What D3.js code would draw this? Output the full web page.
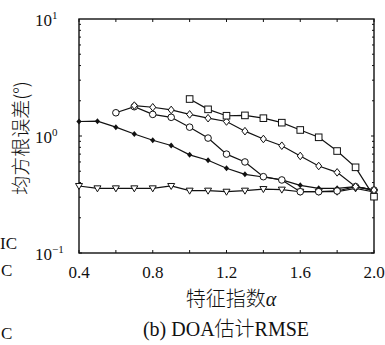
<!DOCTYPE html>
<html lang="zh">
<head>
<meta charset="UTF-8">
<title>DOA估计RMSE</title>
<script src="https://cdn.jsdelivr.net/npm/d3@7"></script>
<style>
  body { margin: 0; background: #fff; }
  text { fill: #111; }
</style>
</head>
<body>
<script>
  // 数据
  const alphaFull = [0.4, 0.5, 0.6, 0.7, 0.8, 0.9, 1.0, 1.1, 1.2, 1.3, 1.4, 1.5, 1.6, 1.7, 1.8, 1.9, 2.0];
  const triVals = [0.374, 0.357, 0.357, 0.357, 0.357, 0.374, 0.341, 0.341, 0.334, 0.341, 0.352, 0.348, 0.334, 0.334, 0.334, 0.357, 0.332];
  const dotVals = [1.33, 1.34, 1.19, 1.04, 0.92, 0.83, 0.69, 0.62, 0.53, 0.47, 0.446, 0.421, 0.379, 0.357, 0.357, 0.369, 0.345];
  const alphaCircle = [0.6, 0.7, 0.8, 0.9, 1.0, 1.1, 1.2, 1.3, 1.4, 1.5, 1.6, 1.7, 1.8, 1.9, 2.0];
  const circleVals = [1.58, 1.78, 1.53, 1.445, 1.19, 0.96, 0.70, 0.60, 0.449, 0.421, 0.334, 0.334, 0.339, 0.369, 0.345];
  const alphaDiamond = [0.7, 0.8, 0.9, 1.0, 1.1, 1.2, 1.3, 1.4, 1.5, 1.6, 1.7, 1.8, 1.9, 2.0];
  const diamondVals = [1.82, 1.76, 1.67, 1.53, 1.42, 1.33, 1.10, 0.943, 0.826, 0.675, 0.554, 0.489, 0.369, 0.345];
  const alphaSquare = [1.0, 1.1, 1.2, 1.3, 1.4, 1.5, 1.6, 1.7, 1.8, 1.9, 2.0];
  const squareVals = [2.07, 1.69, 1.49, 1.50, 1.42, 1.30, 1.126, 0.975, 0.744, 0.54, 0.303];
  const xTickLabels = [0.4, 0.8, 1.2, 1.6, 2.0];

  const width = 385, height = 345;
  const marge = { top: 19, bottom: 92, left: 79, right: 11 };

  const svg = d3.select("body").append("svg")
    .attr("width", width)
    .attr("height", height);

  const x = d3.scaleLinear().domain([0.4, 2.0]).range([marge.left, width - marge.right]);
  const y = d3.scaleLog().domain([0.1, 10]).range([height - marge.bottom, marge.top]);

  const serif = "'Liberation Serif', 'DejaVu Serif', serif";
  const cjk = "'Noto Sans CJK SC', sans-serif";

  // 刻度（向内）
  const x0 = x(0.4), x1 = x(2.0), y0 = y(0.1), y1 = y(10);
  const ticks = svg.append("g").attr("stroke", "#111").attr("stroke-width", 1);
  d3.range(0.4, 2.01, 0.2).forEach(v => {
    ticks.append("line").attr("x1", x(v)).attr("x2", x(v)).attr("y1", y0).attr("y2", y0 - 3);
    ticks.append("line").attr("x1", x(v)).attr("x2", x(v)).attr("y1", y1).attr("y2", y1 + 3);
  });
  [0.1, 1].forEach(d => {
    d3.range(1, 10).forEach(k => {
      const v = d * k;
      const len = k === 1 ? 3 : 2;
      ticks.append("line").attr("x1", x0).attr("x2", x0 + len).attr("y1", y(v)).attr("y2", y(v));
      ticks.append("line").attr("x1", x1).attr("x2", x1 - len).attr("y1", y(v)).attr("y2", y(v));
    });
  });

  // 坐标框
  svg.append("rect")
    .attr("x", x0).attr("y", y1)
    .attr("width", x1 - x0).attr("height", y0 - y1)
    .attr("fill", "none").attr("stroke", "#111").attr("stroke-width", 1.4);

  // x 轴标签
  svg.append("g").selectAll("text").data(xTickLabels).enter().append("text")
    .attr("x", d => x(d)).attr("y", y0 + 25)
    .attr("text-anchor", "middle")
    .attr("font-family", serif).attr("font-size", 17)
    .text(d => d.toFixed(1));

  // y 轴标签 10^n
  const yl = svg.append("g").attr("font-family", serif);
  [[10, "1"], [1, "0"], [0.1, "−1"]].forEach(([v, e]) => {
    const t = yl.append("text").attr("x", 35).attr("y", y(v) + 7).attr("font-size", 17);
    t.append("tspan").text("10");
    t.append("tspan").attr("dy", -7).attr("font-size", 11).text(e);
  });

  // 轴标题
  svg.append("text")
    .attr("transform", "translate(28," + ((y0 + y1) / 2 + 2) + ") rotate(-90)")
    .attr("text-anchor", "middle")
    .attr("font-family", cjk).attr("font-size", 19).attr("font-weight", 300)
    .text("均方根误差(°)");

  const xt = svg.append("text")
    .attr("x", 231).attr("y", 306)
    .attr("text-anchor", "middle")
    .attr("font-family", cjk).attr("font-size", 20).attr("font-weight", 300);
  xt.append("tspan").text("特征指数");
  xt.append("tspan").attr("font-family", serif).attr("font-style", "italic").text("α");

  const cap = svg.append("text")
    .attr("x", 226).attr("y", 336)
    .attr("text-anchor", "middle")
    .attr("font-size", 20);
  cap.append("tspan").attr("font-family", serif).text("(b) DOA");
  cap.append("tspan").attr("font-family", cjk).attr("font-weight", 300).text("估计");
  cap.append("tspan").attr("font-family", serif).text("RMSE");

  // 左侧邻图残留文字
  const frag = svg.append("g").attr("font-family", serif).attr("font-size", 17);
  frag.append("text").attr("x", 0).attr("y", 249).text("IC");
  frag.append("text").attr("x", 1).attr("y", 276).text("C");
  frag.append("text").attr("x", 1).attr("y", 339).text("C");

  // 曲线
  const line = d3.line().x(d => x(d[0])).y(d => y(d[1]));
  const series = [
    { xs: alphaFull, ys: triVals, mark: "tri" },
    { xs: alphaFull, ys: dotVals, mark: "dot" },
    { xs: alphaCircle, ys: circleVals, mark: "circle" },
    { xs: alphaDiamond, ys: diamondVals, mark: "diamond" },
    { xs: alphaSquare, ys: squareVals, mark: "square" }
  ];

  const plot = svg.append("g");
  series.forEach(s => {
    const pts = s.xs.map((a, i) => [a, s.ys[i]]);
    plot.append("path")
      .attr("d", line(pts))
      .attr("fill", "none").attr("stroke", "#111").attr("stroke-width", 1.2);
  });

  series.forEach(s => {
    const pts = s.xs.map((a, i) => [a, s.ys[i]]);
    const g = plot.append("g").selectAll("g").data(pts).enter().append("g")
      .attr("transform", d => "translate(" + x(d[0]) + "," + y(d[1]) + ")");
    if (s.mark === "tri") {
      g.append("path").attr("d", "M-3.5,-2.5L3.5,-2.5L0,3.5Z")
        .attr("fill", "#fff").attr("stroke", "#111").attr("stroke-width", 1);
    } else if (s.mark === "dot") {
      g.append("path").attr("d", "M0,-3L2.6,0L0,3L-2.6,0Z").attr("fill", "#111");
    } else if (s.mark === "circle") {
      g.append("circle").attr("r", 3.3)
        .attr("fill", "#fff").attr("stroke", "#111").attr("stroke-width", 1);
    } else if (s.mark === "diamond") {
      g.append("path").attr("d", "M0,-3.8L3,0L0,3.8L-3,0Z")
        .attr("fill", "#fff").attr("stroke", "#111").attr("stroke-width", 1);
    } else {
      g.append("rect").attr("x", -3.3).attr("y", -3.3).attr("width", 6.6).attr("height", 6.6)
        .attr("fill", "#fff").attr("stroke", "#111").attr("stroke-width", 1);
    }
  });
</script>
</body>
</html>
